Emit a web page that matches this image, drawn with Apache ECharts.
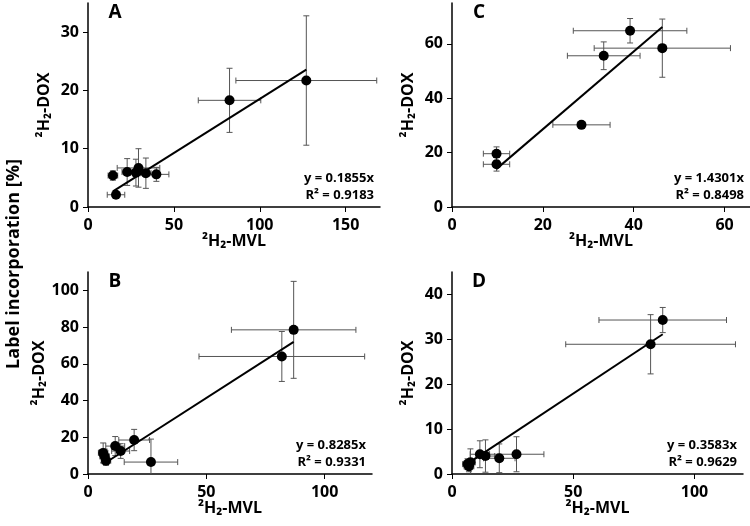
<!DOCTYPE html>
<html><head><meta charset="utf-8">
<script src="https://cdn.jsdelivr.net/npm/echarts@6/dist/echarts.min.js"></script>
<style>html,body{margin:0;padding:0;background:#fff}#c{width:750px;height:526px}</style>
</head><body><div id="c"></div>
<script>
// Panel A
const mvlA    = [14.5, 16.3, 22.8, 27.9, 29.4, 33.7, 39.8, 82.4, 127.1];
const doxA    = [5.4, 2.1, 6.0, 5.9, 6.7, 5.8, 5.6, 18.3, 21.7];
const mvlErrA = [2.8, 5.1, 3.0, 3.0, 12.4, 3.0, 7.3, 18.2, 41.0];
const doxErrA = [0.8, 0.4, 2.3, 2.3, 3.3, 2.6, 1.2, 5.5, 11.1];
// Panels B and D share MVL values
const mvlBD    = [86.9, 81.9, 26.6, 19.5, 11.5, 13.8, 6.4, 7.0, 7.6];
const mvlErrBD = [26.3, 35.0, 11.3, 6.5, 4.0, 3.8, 2.0, 2.0, 2.0];
const doxB     = [78.5, 64.0, 6.5, 18.5, 15.2, 12.5, 11.5, 9.6, 7.2];
const doxErrB  = [26.4, 13.6, 12.5, 5.8, 5.2, 4.0, 5.4, 4.0, 2.5];
const doxD     = [34.3, 28.9, 4.4, 3.5, 4.4, 4.0, 2.2, 1.7, 2.6];
const doxErrD  = [2.8, 6.6, 3.9, 3.2, 3.0, 3.6, 1.2, 1.2, 3.0];
// Panel C
const mvlC    = [39.2, 46.3, 33.4, 28.5, 9.8, 9.8];
const doxC    = [64.8, 58.4, 55.6, 30.2, 19.6, 15.7];
const mvlErrC = [12.5, 15.0, 8.0, 6.3, 2.9, 2.9];
const doxErrC = [4.5, 10.7, 5.1, 0.5, 2.5, 2.5];
// Fit results (labels shown on chart)
const panelLetters = ['A', 'B', 'C', 'D'];
const slopes  = [0.1855, 0.8285, 1.4301, 0.3583];
const r2s     = ['0.9183', '0.9331', '0.8498', '0.9629'];
const xMaxes  = [170, 120, 65.6, 120];
const yMaxes  = [35, 110, 75, 45];
const xSteps  = [50, 50, 20, 50];
const ySteps  = [10, 20, 20, 10];

const FONT = '"Open Sans", "DejaVu Sans", sans-serif';
const errColor = '#555';

const panelData = [
  {x: mvlA, y: doxA, ex: mvlErrA, ey: doxErrA},
  {x: mvlBD, y: doxB, ex: mvlErrBD, ey: doxErrB},
  {x: mvlC, y: doxC, ex: mvlErrC, ey: doxErrC},
  {x: mvlBD, y: doxD, ex: mvlErrBD, ey: doxErrD}
];
const grids = [
  {left: 88, top: 3, width: 292, height: 204},
  {left: 88, top: 272, width: 284, height: 202},
  {left: 452, top: 3, width: 298, height: 204},
  {left: 452, top: 272, width: 291, height: 202}
];

function renderErr(params, api) {
  const x = api.value(0), y = api.value(1), ex = api.value(2), ey = api.value(3);
  const c = api.coord([x, y]);
  const l = api.coord([x - ex, y]), r = api.coord([x + ex, y]);
  const t = api.coord([x, y + ey]), b = api.coord([x, y - ey]);
  const cap = 3;
  const st = {stroke: errColor, lineWidth: 1};
  const ch = [
    {type: 'line', shape: {x1: l[0], y1: c[1], x2: r[0], y2: c[1]}, style: st},
    {type: 'line', shape: {x1: l[0], y1: c[1] - cap, x2: l[0], y2: c[1] + cap}, style: st},
    {type: 'line', shape: {x1: r[0], y1: c[1] - cap, x2: r[0], y2: c[1] + cap}, style: st},
    {type: 'line', shape: {x1: c[0], y1: t[1], x2: c[0], y2: b[1]}, style: st},
    {type: 'line', shape: {x1: c[0] - cap, y1: t[1], x2: c[0] + cap, y2: t[1]}, style: st},
    {type: 'line', shape: {x1: c[0] - cap, y1: b[1], x2: c[0] + cap, y2: b[1]}, style: st}
  ];
  return {type: 'group', children: ch};
}

const axisCommon = {
  axisLine: {show: true, onZero: false, lineStyle: {color: '#000', width: 1.5}},
  axisTick: {show: true, inside: false, length: 5, lineStyle: {color: '#000', width: 1}},
  splitLine: {show: false},
  axisLabel: {color: '#000', fontFamily: FONT, fontWeight: 'bold', fontSize: 16, showMaxLabel: false},
  nameTextStyle: {color: '#000', fontFamily: FONT, fontWeight: 'bold', fontSize: 16}
};

const xAxes = [], yAxes = [], series = [], graphics = [];
for (let i = 0; i < 4; i++) {
  const g = grids[i];
  xAxes.push(Object.assign({}, axisCommon, {
    type: 'value', gridIndex: i, min: 0, max: xMaxes[i], interval: xSteps[i],
    name: '²H₂-MVL', nameLocation: 'middle', nameGap: 24,
    axisLabel: Object.assign({}, axisCommon.axisLabel, {margin: 10})
  }));
  yAxes.push(Object.assign({}, axisCommon, {
    type: 'value', gridIndex: i, min: 0, max: yMaxes[i], interval: ySteps[i],
    name: '²H₂-DOX', nameLocation: 'middle', nameGap: 36,
    axisLabel: Object.assign({}, axisCommon.axisLabel, {margin: 9})
  }));
  const d = panelData[i];
  const pts = d.x.map((v, k) => [v, d.y[k]]);
  const errs = d.x.map((v, k) => [v, d.y[k], d.ex[k], d.ey[k]]);
  const xmin = Math.min(...d.x), xmax = Math.max(...d.x);
  series.push({
    type: 'custom', xAxisIndex: i, yAxisIndex: i, data: errs, renderItem: renderErr,
    encode: {x: 0, y: 1}, clip: true, z: 1, silent: true
  });
  series.push({
    type: 'line', xAxisIndex: i, yAxisIndex: i, showSymbol: false, symbol: 'none',
    data: [[xmin, slopes[i] * xmin], [xmax, slopes[i] * xmax]],
    lineStyle: {color: '#000', width: 2}, z: 2, silent: true
  });
  series.push({
    type: 'scatter', xAxisIndex: i, yAxisIndex: i, data: pts, symbolSize: 10,
    itemStyle: {color: '#000', opacity: 1}, z: 3, silent: true
  });
  const right = g.left + g.width - 6;
  const axisY = g.top + g.height;
  graphics.push({
    type: 'text', x: right, y: axisY - 29,
    style: {text: 'y = ' + slopes[i] + 'x', align: 'right', verticalAlign: 'middle',
      font: 'bold 13px ' + FONT, fill: '#000'}
  });
  graphics.push({
    type: 'text', x: right, y: axisY - 12,
    style: {text: 'R² = ' + r2s[i], align: 'right', verticalAlign: 'middle',
      font: 'bold 13px ' + FONT, fill: '#000'}
  });
  graphics.push({
    type: 'text', x: g.left + 27, y: g.top + 10,
    style: {text: panelLetters[i], align: 'center', verticalAlign: 'middle',
      font: 'bold 19px ' + FONT, fill: '#000'}
  });
}
graphics.push({
  type: 'text', x: 14, y: 264, rotation: Math.PI / 2,
  style: {text: 'Label incorporation [%]', align: 'center', verticalAlign: 'middle',
    font: 'bold 18px ' + FONT, fill: '#000'}
});

const chart = echarts.init(document.getElementById('c'), null, {renderer: 'canvas'});
chart.setOption({
  animation: false,
  backgroundColor: '#fff',
  grid: grids,
  xAxis: xAxes,
  yAxis: yAxes,
  series: series,
  graphic: graphics
});
</script>
</body></html>
